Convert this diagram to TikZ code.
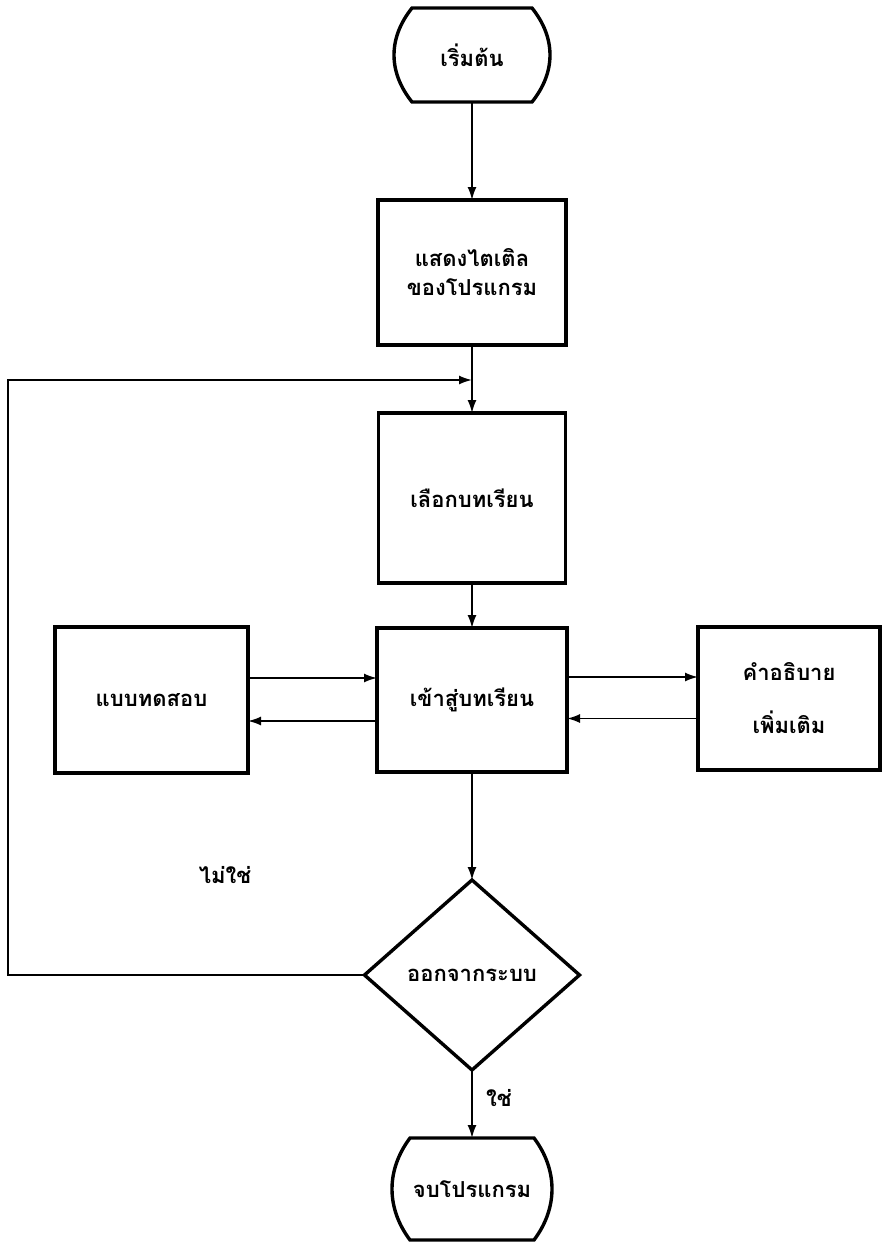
\documentclass[tikz,border=0pt]{standalone}
\usepackage{fontspec}
\newfontfamily\thai[Script=Thai]{Loma}
\usetikzlibrary{arrows.meta,shapes.geometric}
\begin{document}
\begin{tikzpicture}[x=1pt,y=-1pt,
  font=\thai\bfseries\fontsize{22}{25}\selectfont,
  boxline/.style={line width=3.4pt},
  procbox/.style={draw,boxline,rectangle,inner sep=0pt,outer sep=0pt,align=center},
  termbox/.style={draw=none,rectangle,inner sep=0pt,outer sep=0pt,align=center},
  decbox/.style={draw,boxline,diamond,inner sep=0pt,outer sep=0pt,minimum width=215pt,minimum height=190pt},
  conn/.style={line width=1.8pt},
  arr/.style={conn,-{Latex[length=13pt,width=9pt]}},
  lbl/.style={inner sep=0pt}
]
\useasboundingbox (0,0) rectangle (882,1243);

% terminals
\node[termbox,minimum width=120pt,minimum height=94pt] (start) at (472,55) {\raisebox{-8pt}{เริ่มต้น}};
\draw[boxline] (start.north west) -- (start.north east)
  .. controls +(24,30) and +(24,-30) .. (start.south east)
  -- (start.south west)
  .. controls +(-24,-30) and +(-24,30) .. (start.north west) -- cycle;

\node[termbox,minimum width=124pt,minimum height=102pt] (stop) at (472,1189) {จบโปรแกรม};
\draw[boxline] (stop.north west) -- (stop.north east)
  .. controls +(24,32) and +(24,-32) .. (stop.south east)
  -- (stop.south west)
  .. controls +(-24,-32) and +(-24,32) .. (stop.north west) -- cycle;

% process boxes
\node[procbox,minimum width=188pt,minimum height=145pt] (title) at (472,272.5) {แสดงไตเติล\\[4pt]ของโปรแกรม};
\node[procbox,minimum width=187pt,minimum height=170pt] (choose) at (472,498) {เลือกบทเรียน};
\node[procbox,minimum width=190pt,minimum height=144pt] (lesson) at (472,700) {เข้าสู่บทเรียน};
\node[procbox,minimum width=193pt,minimum height=146pt] (test) at (151.5,700) {แบบทดสอบ};
\node[procbox,minimum width=182pt,minimum height=143pt] (more) at (789,698.5) {คำอธิบาย\\[28pt]เพิ่มเติม};

% decision
\node[decbox] (exit) at (472,975) {ออกจากระบบ};

% connectors
\coordinate (join) at (472,380);
\coordinate (loopcorner) at (8,380);

\draw[arr] (start.south) -- (title.north);
\draw[conn] (title.south) -- (join);
\draw[arr] (join) -- (choose.north);
\draw[arr] (exit.west) -| (loopcorner) -- (join);
\draw[arr] (choose.south) -- (lesson.north);

\draw[arr] ([yshift=22pt]test.east) -- ([yshift=22pt]test.east -| lesson.west);
\draw[arr] ([yshift=-21pt]lesson.west) -- ([yshift=-21pt]lesson.west -| test.east);
\draw[arr] ([yshift=23pt]lesson.east) -- ([yshift=23pt]lesson.east -| more.west);
\draw[arr] ([yshift=-20pt]more.west) -- ([yshift=-20pt]more.west -| lesson.east);

\draw[arr] (lesson.south) -- (exit.north);
\draw[arr] (exit.south) -- (stop.north);

% labels
\node[lbl] (no) at (225,875) {ไม่ใช่};
\node[lbl] (yes) at (499,1098) {ใช่};
\end{tikzpicture}
\end{document}
